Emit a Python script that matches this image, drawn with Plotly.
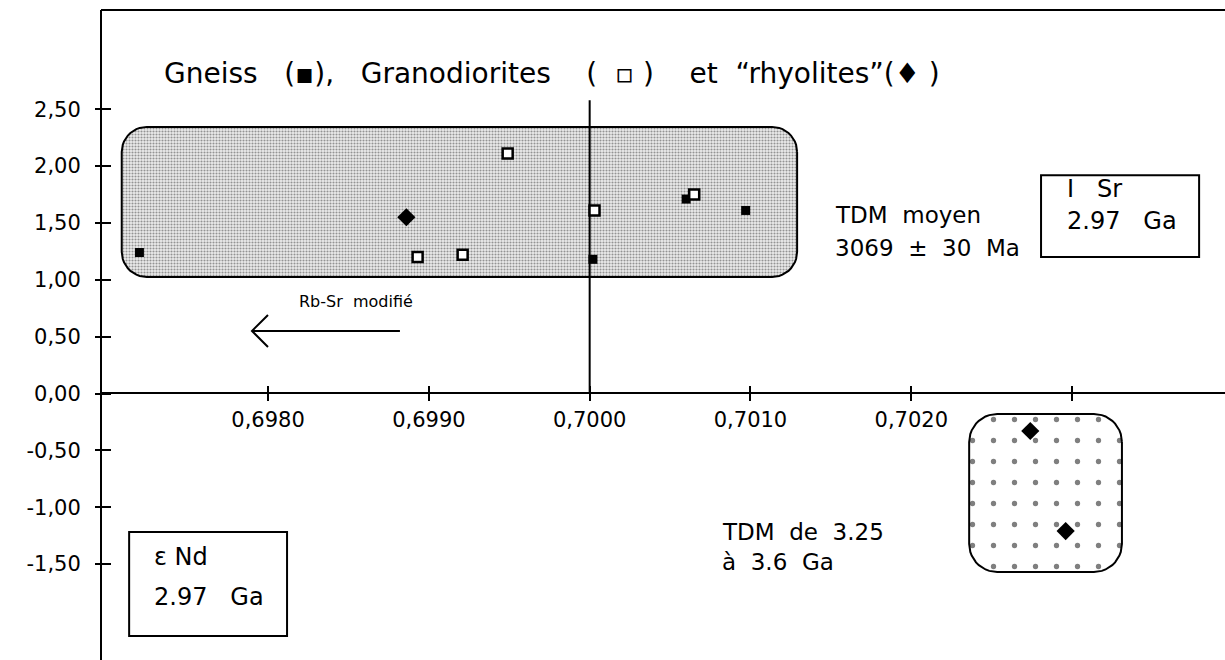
import numpy as np
import plotly.graph_objects as go

# ---- data -------------------------------------------------------------
# initial 87Sr/86Sr (x) and epsilon Nd (y) at 2.97 Ga
gneiss_sr = [0.69720, 0.70002, 0.70060, 0.70097]
gneiss_nd = [1.24, 1.18, 1.71, 1.61]

grano_sr = [0.69893, 0.69921, 0.69949, 0.70003, 0.70065]
grano_nd = [1.20, 1.22, 2.11, 1.61, 1.75]

rhyo_sr = [0.69886, 0.70274, 0.70296]
rhyo_nd = [1.55, -0.33, -1.21]

x_ticks = [0.6980, 0.6990, 0.7000, 0.7010, 0.7020, 0.7030]
x_labels = ["0,6980", "0,6990", "0,7000", "0,7010", "0,7020", ""]
y_ticks = [-1.5, -1.0, -0.5, 0.0, 0.5, 1.0, 1.5, 2.0, 2.5]
y_labels = ["-1,50", "-1,00", "-0,50", "0,00", "0,50", "1,00", "1,50", "2,00", "2,50"]

# reference value for the vertical line (bulk earth Sr)
sr_ref = 0.7000
sr_ref_top = 2.58

# ---- frame ------------------------------------------------------------
W, H = 1225, 660
M_L, M_R, M_T, M_B = 101, 0, 10, 0
X_RANGE = [0.696961, 0.703951]
Y_RANGE = [-2.344, 3.373]
PW, PH = W - M_L - M_R, H - M_T - M_B
px_x = PW / (X_RANGE[1] - X_RANGE[0])   # pixels per x unit
px_y = PH / (Y_RANGE[1] - Y_RANGE[0])   # pixels per y unit
x_axis_pos = (0 - Y_RANGE[0]) / (Y_RANGE[1] - Y_RANGE[0])

BLACK = "#000000"
FONT = "DejaVu Sans"
TICK_FONT = dict(family=FONT, size=21, color=BLACK)


def rounded_box(x0, x1, y0, y1, r_px, n=12):
    """Closed outline of a rounded rectangle, corner radius in pixels."""
    rx, ry = r_px / px_x, r_px / px_y
    corners = [
        (x1 - rx, y1 - ry, 0.0),
        (x0 + rx, y1 - ry, 0.5 * np.pi),
        (x0 + rx, y0 + ry, np.pi),
        (x1 - rx, y0 + ry, 1.5 * np.pi),
    ]
    xs, ys = [], []
    for cx, cy, a0 in corners:
        t = np.linspace(a0, a0 + 0.5 * np.pi, n)
        xs.extend(cx + rx * np.cos(t))
        ys.extend(cy + ry * np.sin(t))
    xs.append(xs[0])
    ys.append(ys[0])
    return xs, ys


fig = go.Figure()

# shaded field of the gneiss / granodiorite group
gx, gy = rounded_box(0.69709, 0.70129, 1.025, 2.345, 25)
fig.add_trace(go.Scatter(
    x=gx, y=gy, mode="lines", fill="toself",
    line=dict(color=BLACK, width=2),
    fillcolor="#c8c8c8",
    fillpattern=dict(shape=".", size=3, solidity=0.4,
                     fgcolor="#3a3a3a", bgcolor="#ececec"),
    hoverinfo="skip", showlegend=False,
))

# dotted field of the two rhyolites with negative eNd
dx, dy = rounded_box(0.70236, 0.70331, -1.570, -0.180, 28)
fig.add_trace(go.Scatter(
    x=dx, y=dy, mode="lines", fill="toself",
    line=dict(color=BLACK, width=2),
    fillcolor="white",
    fillpattern=dict(shape=".", size=21, solidity=0.05,
                     fgcolor=BLACK, bgcolor="white"),
    hoverinfo="skip", showlegend=False,
))

# vertical reference line at Sr = 0.7000
fig.add_trace(go.Scatter(
    x=[sr_ref, sr_ref], y=[0, sr_ref_top], mode="lines",
    line=dict(color=BLACK, width=2),
    hoverinfo="skip", showlegend=False,
))

fig.add_trace(go.Scatter(
    x=gneiss_sr, y=gneiss_nd, mode="markers", name="Gneiss",
    marker=dict(symbol="square", size=9, color=BLACK, line=dict(width=0)),
    showlegend=False,
))
fig.add_trace(go.Scatter(
    x=grano_sr, y=grano_nd, mode="markers", name="Granodiorites",
    marker=dict(symbol="square", size=10, color="white",
                line=dict(color=BLACK, width=2.5)),
    showlegend=False,
))
fig.add_trace(go.Scatter(
    x=rhyo_sr, y=rhyo_nd, mode="markers", name="rhyolites",
    marker=dict(symbol="diamond", size=14, color=BLACK, line=dict(width=0)),
    showlegend=False,
))

# carrier for the inner half of the crossing ticks
fig.add_trace(go.Scatter(x=[None], y=[None], xaxis="x2", yaxis="y2",
                         showlegend=False, hoverinfo="skip"))

# ---- annotation boxes ---------------------------------------------------
shapes = [
    # top frame line
    dict(type="line", xref="paper", yref="paper", x0=0, x1=1, y0=1, y1=1,
         line=dict(color=BLACK, width=2)),
    # I Sr box
    dict(type="rect", xref="x", yref="y", x0=0.702807, x1=0.703790,
         y0=1.200, y1=1.920, fillcolor="white",
         line=dict(color=BLACK, width=2), layer="above"),
    # eps Nd box
    dict(type="rect", xref="x", yref="y", x0=0.697136, x1=0.698118,
         y0=-2.133, y1=-1.218, fillcolor="white",
         line=dict(color=BLACK, width=2), layer="above"),
]

# Rb-Sr arrow pointing to lower Sr ratios
arr_tip, arr_tail, arr_y = 0.69790, 0.69882, 0.55
wing_dx, wing_dy = 16 / px_x, 16 / px_y
shapes.append(dict(
    type="path", xref="x", yref="y",
    path=(f"M {arr_tail} {arr_y} L {arr_tip} {arr_y} "
          f"M {arr_tip + wing_dx} {arr_y + wing_dy} L {arr_tip} {arr_y} "
          f"L {arr_tip + wing_dx} {arr_y - wing_dy}"),
    line=dict(color=BLACK, width=2),
))


def label(text, x, y, size=23, xanchor="left", xref="x", yref="y"):
    return dict(text=text, x=x, y=y, xref=xref, yref=yref, showarrow=False,
                xanchor=xanchor, yanchor="middle",
                font=dict(family=FONT, size=size, color=BLACK))


title = ("Gneiss   (\u25aa),   Granodiorites    (  \u25ab )    "
         "et  \u201crhyolites\u201d(\u2666 )")

annotations = [
    label(title, 0.401, 0.903, size=28, xanchor="center",
          xref="paper", yref="paper"),
    label("TDM  moyen", 0.701514, 1.570),
    label("3069  \u00b1  30  Ma", 0.701514, 1.280),
    label("I   Sr", 0.702956, 1.799, size=24),
    label("2.97   Ga", 0.702956, 1.517, size=24),
    label("\u03b5 Nd", 0.697279, -1.438, size=24),
    label("2.97   Ga", 0.697279, -1.790, size=24),
    label("TDM  de  3.25", 0.700811, -1.218),
    label("\u00e0  3.6  Ga", 0.700811, -1.482),
    label("Rb-Sr  modifi\u00e9", 0.698180, 0.805, size=16),
]

axis_common = dict(showgrid=False, zeroline=False, tickcolor=BLACK,
                   tickwidth=2, fixedrange=True)

fig.update_layout(
    width=W, height=H,
    margin=dict(l=M_L, r=M_R, t=M_T, b=M_B, pad=0),
    paper_bgcolor="white", plot_bgcolor="white",
    xaxis=dict(range=X_RANGE, anchor="free", position=x_axis_pos,
               tickvals=x_ticks, ticktext=x_labels, ticks="outside",
               ticklen=7, showline=True, linewidth=2, linecolor=BLACK,
               tickfont=TICK_FONT, ticklabelstandoff=0, **axis_common),
    xaxis2=dict(range=X_RANGE, overlaying="x", anchor="free",
                position=x_axis_pos, tickvals=x_ticks, ticks="inside",
                ticklen=7, showticklabels=False, showline=False,
                **axis_common),
    yaxis=dict(range=Y_RANGE, anchor="free", position=0,
               tickvals=y_ticks, ticktext=y_labels, ticks="outside",
               ticklen=5, showline=True, linewidth=2, linecolor=BLACK,
               tickfont=TICK_FONT, ticklabelstandoff=10, **axis_common),
    yaxis2=dict(range=Y_RANGE, overlaying="y", anchor="free", position=0,
                tickvals=y_ticks, ticks="inside", ticklen=9,
                showticklabels=False, showline=False, **axis_common),
    shapes=shapes,
    annotations=annotations,
    showlegend=False,
)

fig.write_html("out.html")
